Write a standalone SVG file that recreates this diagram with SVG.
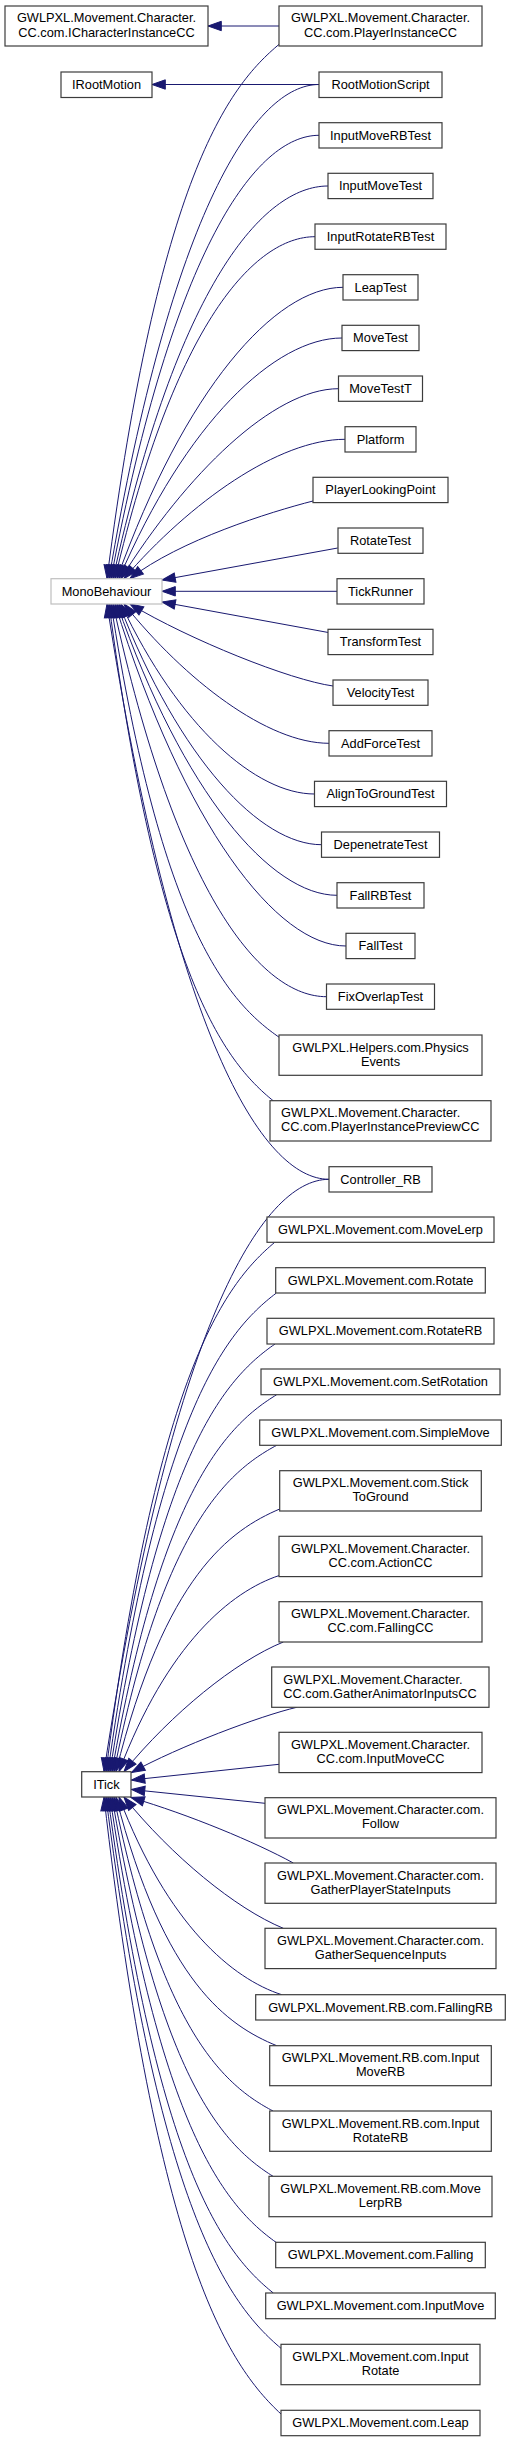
<svg xmlns="http://www.w3.org/2000/svg" width="511" height="2442" viewBox="0 0 511 2442">
<style>
.nd rect{fill:#fff;stroke:#3c3c3c;stroke-width:1.2}
.ext rect{stroke:#bfbfbf}
text{font-family:"Liberation Sans",Arial,Helvetica,sans-serif;font-size:12.8px;fill:#000;text-anchor:middle}
text.l{text-anchor:start}
.e path{fill:none;stroke:#191970;stroke-width:1;marker-end:url(#ah)}
</style>
<defs>
<marker id="ah" markerUnits="userSpaceOnUse" markerWidth="15" markerHeight="11" viewBox="-0.5 -5.5 15 11" refX="13.3" refY="0" orient="auto" style="overflow:visible">
<path d="M0,-4.7 L13.3,0 L0,4.7 z" fill="#191970" stroke="#191970" stroke-width="1"/>
</marker>
</defs>
<rect x="0" y="0" width="511" height="2442" fill="#fff"/>
<g id="connectors" class="e">
<path d="M279,26 L208,26"/>
<path d="M319,84.5 L152,84.5"/>
<path d="M279.5,44 C227.75,86.8 158.75,177.6 107,578.5"/>
<path d="M319,84.5 C256,84.5 172,208 109,578.5"/>
<path d="M319,135.3 C256.6,135.3 173.4,246.1 111,578.5"/>
<path d="M328,186 C263.5,186 177.5,284.1 113,578.5"/>
<path d="M315,236.7 C255,236.7 175,322.2 115,578.5"/>
<path d="M343,287.3 C275.2,287.3 184.8,389.2 117,578.5"/>
<path d="M342,338 C275.1,338 185.9,422.2 119,578.5"/>
<path d="M338.5,388.7 C273.25,388.7 186.25,474.1 121,578.5"/>
<path d="M345,439.3 C278.7,439.3 190.3,501.9 124,578.5"/>
<path d="M313,501 C270,512 180,540 130,578.5"/>
<path d="M337.7,548 L162,580"/>
<path d="M337,591.3 L162,591.3"/>
<path d="M328.3,632.5 L162,602"/>
<path d="M333,686 C290,680 190,640 130,604"/>
<path d="M329,743.3 C267.5,743.3 185.5,680.6 124,604"/>
<path d="M314.5,794 C256.45,794 179.05,727.5 121,604"/>
<path d="M321.5,844.7 C260.75,844.7 179.75,760.5 119,604"/>
<path d="M337,895.3 C271,895.3 183,793.3 117,604"/>
<path d="M346,946 C276.7,946 184.3,826.3 115,604"/>
<path d="M326.5,996.7 C262.45,996.7 177.05,898.5 113,604"/>
<path d="M279.5,1037.5 C228.95,1002.8 161.55,929.1 111,604"/>
<path d="M273.5,1101 C224.15,1061.2 158.35,976.75 109,604"/>
<path d="M329,1179.3 C262.4,1179.3 173.6,1035.5 107,604"/>
<path d="M329,1179.3 C261.5,1179.3 171.5,1327.35 104,1771.5"/>
<path d="M274.5,1242.5 C223.95,1284.8 156.55,1374.75 106,1771.5"/>
<path d="M276,1293.3 C225.6,1331.6 158.4,1412.85 108,1771.5"/>
<path d="M275,1344 C225.5,1378.2 159.5,1450.9 110,1771.5"/>
<path d="M276.7,1394.7 C227.3,1424.8 161.4,1488.9 112,1771.5"/>
<path d="M276.7,1445.3 C227.9,1471.4 162.8,1526.9 114,1771.5"/>
<path d="M279.7,1509 C230.6,1530 165.1,1574.6 116,1771.5"/>
<path d="M279.3,1575.5 C231.2,1591.2 167.1,1644.1 119,1771.5"/>
<path d="M283.3,1642 C235.5,1661.4 171.8,1713.2 124,1771.5"/>
<path d="M296.7,1707.3 C260,1716 180,1746 131.5,1772.5"/>
<path d="M279,1764.3 L131.5,1780"/>
<path d="M265,1803.3 L131.5,1789.5"/>
<path d="M293.3,1863 C255,1842 190,1815 131,1797.5"/>
<path d="M283.3,1928.3 C235.5,1908.6 171.8,1856.2 124,1797.2"/>
<path d="M281.7,1994.7 C232.9,1978.9 167.8,1925.6 119,1797.2"/>
<path d="M276.7,2045.7 C228.5,2025.8 164.2,1983.6 116,1797.2"/>
<path d="M273,2111 C225.3,2085.9 161.7,2032.55 114,1797.2"/>
<path d="M273,2176.3 C224.7,2146 160.3,2081.5 112,1797.2"/>
<path d="M276,2242.3 C226.2,2206.7 159.8,2131 110,1797.2"/>
<path d="M273.3,2293 C223.7,2253.3 157.6,2169.05 108,1797.2"/>
<path d="M281,2348.3 C228.5,2304.2 158.5,2210.5 106,1797.2"/>
<path d="M281,2414 C227.9,2364.7 157.1,2259.8 104,1797.2"/>
</g>
<g id="n-ICharacterInstanceCC" class="nd"><rect x="5" y="6" width="203" height="40"/><text x="106.5" y="22.4">GWLPXL.Movement.Character.</text><text x="106.5" y="36.6">CC.com.ICharacterInstanceCC</text></g>
<g id="n-PlayerInstanceCC" class="nd"><rect x="279" y="6" width="203" height="40"/><text x="380.5" y="22.4">GWLPXL.Movement.Character.</text><text x="380.5" y="36.6">CC.com.PlayerInstanceCC</text></g>
<g id="n-IRootMotion" class="nd"><rect x="61" y="72" width="91" height="25.5"/><text x="106.5" y="89">IRootMotion</text></g>
<g id="n-RootMotionScript" class="nd"><rect x="319" y="72" width="123" height="25.5"/><text x="380.5" y="89">RootMotionScript</text></g>
<g id="n-InputMoveRBTest" class="nd"><rect x="319" y="122.7" width="123" height="25.3"/><text x="380.5" y="139.6">InputMoveRBTest</text></g>
<g id="n-InputMoveTest" class="nd"><rect x="328" y="173.3" width="105" height="25.3"/><text x="380.5" y="190.2">InputMoveTest</text></g>
<g id="n-InputRotateRBTest" class="nd"><rect x="315" y="224" width="131" height="25.3"/><text x="380.5" y="240.9">InputRotateRBTest</text></g>
<g id="n-LeapTest" class="nd"><rect x="343" y="274.7" width="75" height="25.3"/><text x="380.5" y="291.6">LeapTest</text></g>
<g id="n-MoveTest" class="nd"><rect x="342" y="325.3" width="77" height="25.3"/><text x="380.5" y="342.2">MoveTest</text></g>
<g id="n-MoveTestT" class="nd"><rect x="338.5" y="376" width="84" height="25.3"/><text x="380.5" y="392.9">MoveTestT</text></g>
<g id="n-Platform" class="nd"><rect x="345" y="426.7" width="71" height="25.3"/><text x="380.5" y="443.6">Platform</text></g>
<g id="n-PlayerLookingPoint" class="nd"><rect x="313" y="477.3" width="135" height="25.3"/><text x="380.5" y="494.2">PlayerLookingPoint</text></g>
<g id="n-RotateTest" class="nd"><rect x="338" y="528" width="85" height="25.3"/><text x="380.5" y="544.9">RotateTest</text></g>
<g id="n-MonoBehaviour" class="nd ext"><rect x="51" y="578.7" width="111" height="25.3"/><text x="106.5" y="595.6">MonoBehaviour</text></g>
<g id="n-TickRunner" class="nd"><rect x="337" y="578.7" width="87" height="25.3"/><text x="380.5" y="595.6">TickRunner</text></g>
<g id="n-TransformTest" class="nd"><rect x="328" y="629.3" width="105" height="25.3"/><text x="380.5" y="646.2">TransformTest</text></g>
<g id="n-VelocityTest" class="nd"><rect x="333" y="680" width="95" height="25.3"/><text x="380.5" y="696.9">VelocityTest</text></g>
<g id="n-AddForceTest" class="nd"><rect x="329" y="730.7" width="103" height="25.3"/><text x="380.5" y="747.6">AddForceTest</text></g>
<g id="n-AlignToGroundTest" class="nd"><rect x="314.5" y="781.3" width="132" height="25.3"/><text x="380.5" y="798.2">AlignToGroundTest</text></g>
<g id="n-DepenetrateTest" class="nd"><rect x="321.5" y="832" width="118" height="25.3"/><text x="380.5" y="848.9">DepenetrateTest</text></g>
<g id="n-FallRBTest" class="nd"><rect x="337" y="882.7" width="87" height="25.3"/><text x="380.5" y="899.6">FallRBTest</text></g>
<g id="n-FallTest" class="nd"><rect x="346" y="933.3" width="69" height="25.3"/><text x="380.5" y="950.2">FallTest</text></g>
<g id="n-FixOverlapTest" class="nd"><rect x="326.5" y="984" width="108" height="25.3"/><text x="380.5" y="1000.9">FixOverlapTest</text></g>
<g id="n-PhysicsEvents" class="nd"><rect x="279" y="1035" width="203" height="40.3"/><text x="380.5" y="1051.5">GWLPXL.Helpers.com.Physics</text><text x="380.5" y="1065.7">Events</text></g>
<g id="n-PlayerInstancePreviewCC" class="nd"><rect x="270" y="1100.7" width="221" height="40.3"/><text class="l" x="281" y="1117.2">GWLPXL.Movement.Character.</text><text class="l" x="281" y="1131.4">CC.com.PlayerInstancePreviewCC</text></g>
<g id="n-Controller_RB" class="nd"><rect x="329" y="1166.7" width="103" height="25.3"/><text x="380.5" y="1183.6">Controller_RB</text></g>
<g id="n-MoveLerp" class="nd"><rect x="267" y="1217" width="227" height="25.3"/><text x="380.5" y="1233.9">GWLPXL.Movement.com.MoveLerp</text></g>
<g id="n-Rotate" class="nd"><rect x="275.7" y="1267.7" width="209.6" height="25.3"/><text x="380.5" y="1284.6">GWLPXL.Movement.com.Rotate</text></g>
<g id="n-RotateRB" class="nd"><rect x="267" y="1318.3" width="227" height="25.7"/><text x="380.5" y="1335.4">GWLPXL.Movement.com.RotateRB</text></g>
<g id="n-SetRotation" class="nd"><rect x="261" y="1369" width="239" height="25.7"/><text x="380.5" y="1386.1">GWLPXL.Movement.com.SetRotation</text></g>
<g id="n-SimpleMove" class="nd"><rect x="259.7" y="1420" width="241.6" height="25.3"/><text x="380.5" y="1436.9">GWLPXL.Movement.com.SimpleMove</text></g>
<g id="n-StickToGround" class="nd"><rect x="279.7" y="1470.7" width="201.6" height="40.3"/><text x="380.5" y="1487.2">GWLPXL.Movement.com.Stick</text><text x="380.5" y="1501.4">ToGround</text></g>
<g id="n-ActionCC" class="nd"><rect x="279" y="1536.3" width="203" height="40.3"/><text x="380.5" y="1552.8">GWLPXL.Movement.Character.</text><text x="380.5" y="1567">CC.com.ActionCC</text></g>
<g id="n-FallingCC" class="nd"><rect x="279" y="1601.7" width="203" height="40.3"/><text x="380.5" y="1618.2">GWLPXL.Movement.Character.</text><text x="380.5" y="1632.4">CC.com.FallingCC</text></g>
<g id="n-GatherAnimatorInputsCC" class="nd"><rect x="271.7" y="1667" width="217.3" height="40.3"/><text class="l" x="283.3" y="1683.5">GWLPXL.Movement.Character.</text><text class="l" x="283.3" y="1697.7">CC.com.GatherAnimatorInputsCC</text></g>
<g id="n-InputMoveCC" class="nd"><rect x="279" y="1732.3" width="203" height="40.3"/><text x="380.5" y="1748.8">GWLPXL.Movement.Character.</text><text x="380.5" y="1763">CC.com.InputMoveCC</text></g>
<g id="n-ITick" class="nd"><rect x="81.7" y="1771.7" width="49.3" height="25.3"/><text x="106.4" y="1788.6">ITick</text></g>
<g id="n-Follow" class="nd"><rect x="265" y="1797.7" width="231" height="40.3"/><text x="380.5" y="1814.2">GWLPXL.Movement.Character.com.</text><text x="380.5" y="1828.4">Follow</text></g>
<g id="n-GatherPlayerStateInputs" class="nd"><rect x="265" y="1863" width="231" height="40.3"/><text x="380.5" y="1879.5">GWLPXL.Movement.Character.com.</text><text x="380.5" y="1893.7">GatherPlayerStateInputs</text></g>
<g id="n-GatherSequenceInputs" class="nd"><rect x="265" y="1928.3" width="231" height="40.3"/><text x="380.5" y="1944.8">GWLPXL.Movement.Character.com.</text><text x="380.5" y="1959">GatherSequenceInputs</text></g>
<g id="n-FallingRB" class="nd"><rect x="255.7" y="1994.7" width="249.6" height="25.3"/><text x="380.5" y="2011.6">GWLPXL.Movement.RB.com.FallingRB</text></g>
<g id="n-InputMoveRB" class="nd"><rect x="269.7" y="2045.7" width="221.6" height="40"/><text x="380.5" y="2062.1">GWLPXL.Movement.RB.com.Input</text><text x="380.5" y="2076.3">MoveRB</text></g>
<g id="n-InputRotateRB" class="nd"><rect x="269.7" y="2111" width="221.6" height="40.3"/><text x="380.5" y="2127.5">GWLPXL.Movement.RB.com.Input</text><text x="380.5" y="2141.7">RotateRB</text></g>
<g id="n-MoveLerpRB" class="nd"><rect x="269" y="2176.3" width="223" height="40.4"/><text x="380.5" y="2192.9">GWLPXL.Movement.RB.com.Move</text><text x="380.5" y="2207.1">LerpRB</text></g>
<g id="n-Falling" class="nd"><rect x="275.7" y="2242.3" width="209.6" height="25.4"/><text x="380.5" y="2259.3">GWLPXL.Movement.com.Falling</text></g>
<g id="n-InputMove" class="nd"><rect x="265.7" y="2293" width="229.6" height="25.7"/><text x="380.5" y="2310.1">GWLPXL.Movement.com.InputMove</text></g>
<g id="n-InputRotate" class="nd"><rect x="281" y="2344.3" width="199" height="40.4"/><text x="380.5" y="2360.9">GWLPXL.Movement.com.Input</text><text x="380.5" y="2375.1">Rotate</text></g>
<g id="n-Leap" class="nd"><rect x="281" y="2410.3" width="199" height="25.4"/><text x="380.5" y="2427.3">GWLPXL.Movement.com.Leap</text></g>
</svg>
